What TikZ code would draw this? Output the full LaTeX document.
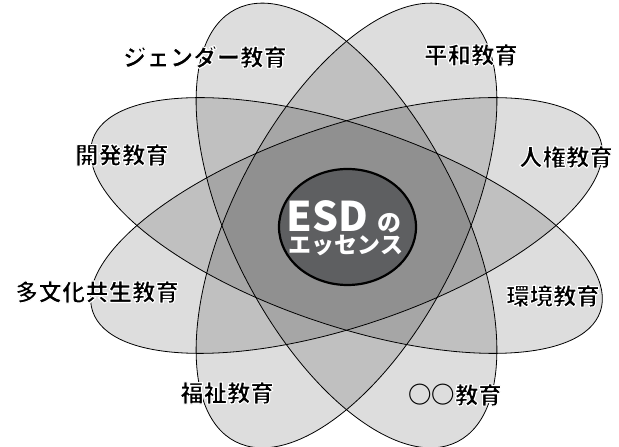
\documentclass[tikz,border=0pt]{standalone}
\usepackage{fontspec}
\newfontfamily\jp{Noto Sans CJK JP}
\definecolor{esdfill}{HTML}{5E5F61}
\newcommand\halo[1]{\special{pdf:literal direct 2 Tr 1 G 1.1 w 1 j}#1\special{pdf:literal direct 0 Tr 0 G}}
\tikzset{
  petal/.style={fill=black, fill opacity=0.135, draw=none},
  petalline/.style={draw=black, line width=0.8bp},
  lab/.style={inner sep=0pt, font=\jp\bfseries\fontsize{23.5}{26}\selectfont, text=black},
  core/.style={fill=esdfill, draw=black, line width=2.2bp},
  coretext/.style={inner sep=0pt, text=white, font=\jp\bfseries},
}
\begin{document}
\begin{tikzpicture}[x=1bp,y=1bp]
\useasboundingbox (0,0) rectangle (619,447);
\coordinate (c) at (346.5,221.5);
% fills
\fill[petal, rotate around={-62.8:(c)}] (c) ellipse [x radius=243, y radius=114];
\fill[petal, rotate around={62.8:(c)}] (c) ellipse [x radius=243, y radius=114];
\fill[petal, rotate around={-18.7:(c)}] (c) ellipse [x radius=268, y radius=100];
\fill[petal, rotate around={18.7:(c)}] (c) ellipse [x radius=268, y radius=100];
% outlines
\draw[petalline, rotate around={-62.8:(c)}] (c) ellipse [x radius=243, y radius=114];
\draw[petalline, rotate around={62.8:(c)}] (c) ellipse [x radius=243, y radius=114];
\draw[petalline, rotate around={-18.7:(c)}] (c) ellipse [x radius=268, y radius=100];
\draw[petalline, rotate around={18.7:(c)}] (c) ellipse [x radius=268, y radius=100];
% core
\draw[core] (347.5,220) ellipse [x radius=68.5, y radius=58];
\node[coretext, anchor=base, font=\jp\bfseries\fontsize{41}{44}\selectfont] (esd) at (327.5,215) {ESD};
\node[coretext, anchor=base, font=\jp\bfseries\fontsize{24}{26}\selectfont] (no) at (389,215) {の};
\node[coretext, anchor=base, font=\jp\bfseries\fontsize{23}{26}\selectfont] (essence) at (346,193) {エッセンス};
% labels
\node[lab] (gender) at (205,390) {\halo{ジェンダー教育}};
\node[lab] (heiwa) at (471,392) {\halo{平和教育}};
\node[lab] (jinken) at (566,290) {\halo{人権教育}};
\node[lab] (kaihatsu) at (122,292) {\halo{開発教育}};
\node[lab] (tabunka) at (97,155) {\halo{多文化共生教育}};
\node[lab] (kankyo) at (553,151) {\halo{環境教育}};
\node[lab] (fukushi) at (227,54) {\halo{福祉教育}};
\node[lab] (maru) at (455,52) {○○\halo{教育}};
\end{tikzpicture}
\end{document}
